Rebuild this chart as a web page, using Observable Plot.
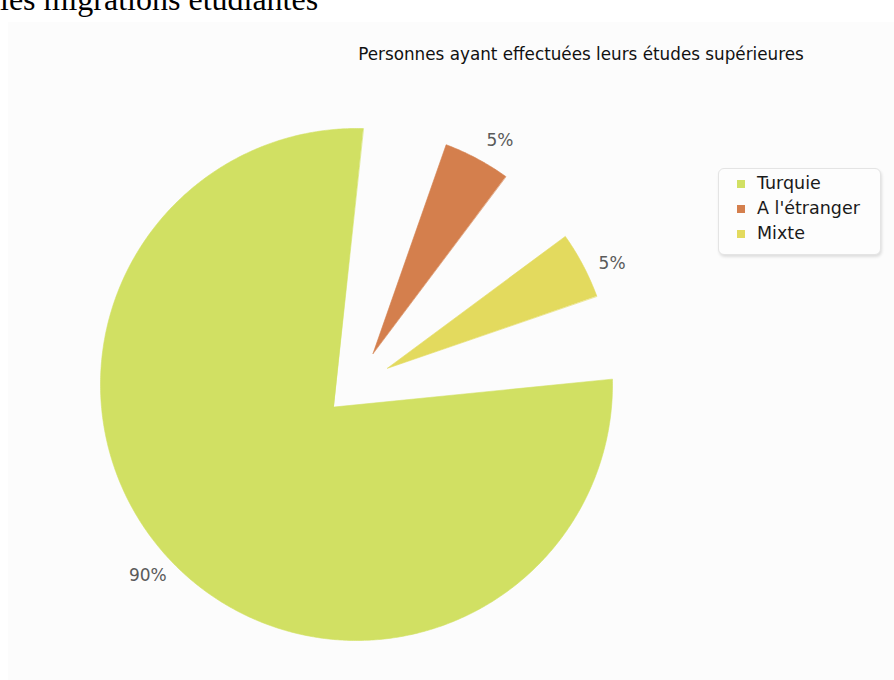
<!DOCTYPE html>
<html>
<head>
<meta charset="utf-8">
<script src="https://cdn.jsdelivr.net/npm/d3@7"></script>
<script src="https://cdn.jsdelivr.net/npm/@observablehq/plot@0.6"></script>
<style>
  html, body { margin: 0; padding: 0; background: #ffffff; }
  body { width: 894px; height: 680px; position: relative; overflow: hidden; font-family: "DejaVu Sans", sans-serif; }
  #doc { position: absolute; left: 0; top: -19px; font-family: "Liberation Serif", "Times New Roman", serif; font-size: 32px; white-space: nowrap; color: #000; }
  #panel { position: absolute; left: 8px; top: 22px; width: 886px; height: 658px; background: #fcfcfc; }
  #title { position: absolute; left: 0; width: 1162px; top: 44px; text-align: center; font-size: 16.8px; line-height: 20px; color: #111; white-space: nowrap; }
  #legend { position: absolute; left: 718px; top: 168px; width: 163px; height: 87px; box-sizing: border-box; border: 1px solid #e4e4e4; border-radius: 6px; background: #fdfdfd; box-shadow: 1px 2px 3px rgba(0,0,0,0.12); }
  .item { position: absolute; left: 18px; height: 24px; line-height: 24px; font-size: 17.5px; color: #1a1a1a; white-space: nowrap; }
  .sw { display: inline-block; width: 8px; height: 8px; margin-right: 12px; vertical-align: 1px; }
</style>
</head>
<body>
<div id="doc">les migrations étudiantes</div>
<div id="panel"></div>
<div id="title"></div>
<div id="legend"></div>
<script>
const categories = ["Turquie", "A l'étranger", "Mixte"];
const values = [90, 5, 5];
const colors = ["#d1e063", "#d47f4d", "#e3da5e"];
const chartTitle = "Personnes ayant effectuées leurs études supérieures";

// styling of the exploded pie: arcs share one circle, tips pulled outward
const startDeg = 79.3, padDeg = 19;
const explode = [0.125, 0.137, 0.137];
const labelR = 1.105, labelShiftDeg = 2.4;

const rad = Math.PI / 180;
const rows = categories.map((c, i) => ({cat: c, value: values[i]}));
const pie = d3.pie().sort(null).value(d => d.value)
  .padAngle(padDeg * rad).startAngle(startDeg * rad).endAngle(startDeg * rad + 2 * Math.PI);
const arcs = pie(rows);

const pts = [];
const labels = [];
arcs.forEach((a, i) => {
  const a0 = a.startAngle + a.padAngle / 2, a1 = a.endAngle - a.padAngle / 2;
  const mid = (a.startAngle + a.endAngle) / 2;
  const vx = explode[i] * Math.sin(mid), vy = explode[i] * Math.cos(mid);
  pts.push({cat: a.data.cat, x: vx, y: vy});
  const n = Math.max(8, Math.ceil((a1 - a0) / (0.5 * rad)));
  for (let k = 0; k <= n; k++) {
    const t = a0 + (a1 - a0) * k / n;
    pts.push({cat: a.data.cat, x: Math.sin(t), y: Math.cos(t)});
  }
  const lm = mid + labelShiftDeg * rad;
  labels.push({cat: a.data.cat, text: a.data.value + "%", x: labelR * Math.sin(lm), y: labelR * Math.cos(lm)});
});

const W = 886, H = 658, cx = 348, cy = 362, unit = 256;
const chart = Plot.plot({
  width: W, height: H,
  margin: 0,
  x: {domain: [-cx / unit, (W - cx) / unit], axis: null},
  y: {domain: [-(H - cy) / unit, cy / unit], axis: null},
  color: {domain: categories, range: colors},
  style: {background: "transparent", fontFamily: "DejaVu Sans, sans-serif"},
  marks: [
    Plot.line(pts, {x: "x", y: "y", z: "cat", fill: "cat", stroke: "cat", strokeWidth: 0.6, curve: "linear-closed"}),
    Plot.text(labels, {x: "x", y: "y", text: "text", fill: "#5a5a5a", fontSize: 17})
  ]
});
document.getElementById("panel").appendChild(chart);

document.getElementById("title").textContent = chartTitle;
const lg = document.getElementById("legend");
categories.forEach((c, i) => {
  const it = document.createElement("div");
  it.className = "item";
  it.style.top = (2 + i * 25) + "px";
  const sw = document.createElement("span");
  sw.className = "sw";
  sw.style.background = colors[i];
  it.appendChild(sw);
  it.appendChild(document.createTextNode(c));
  lg.appendChild(it);
});
</script>
</body>
</html>
